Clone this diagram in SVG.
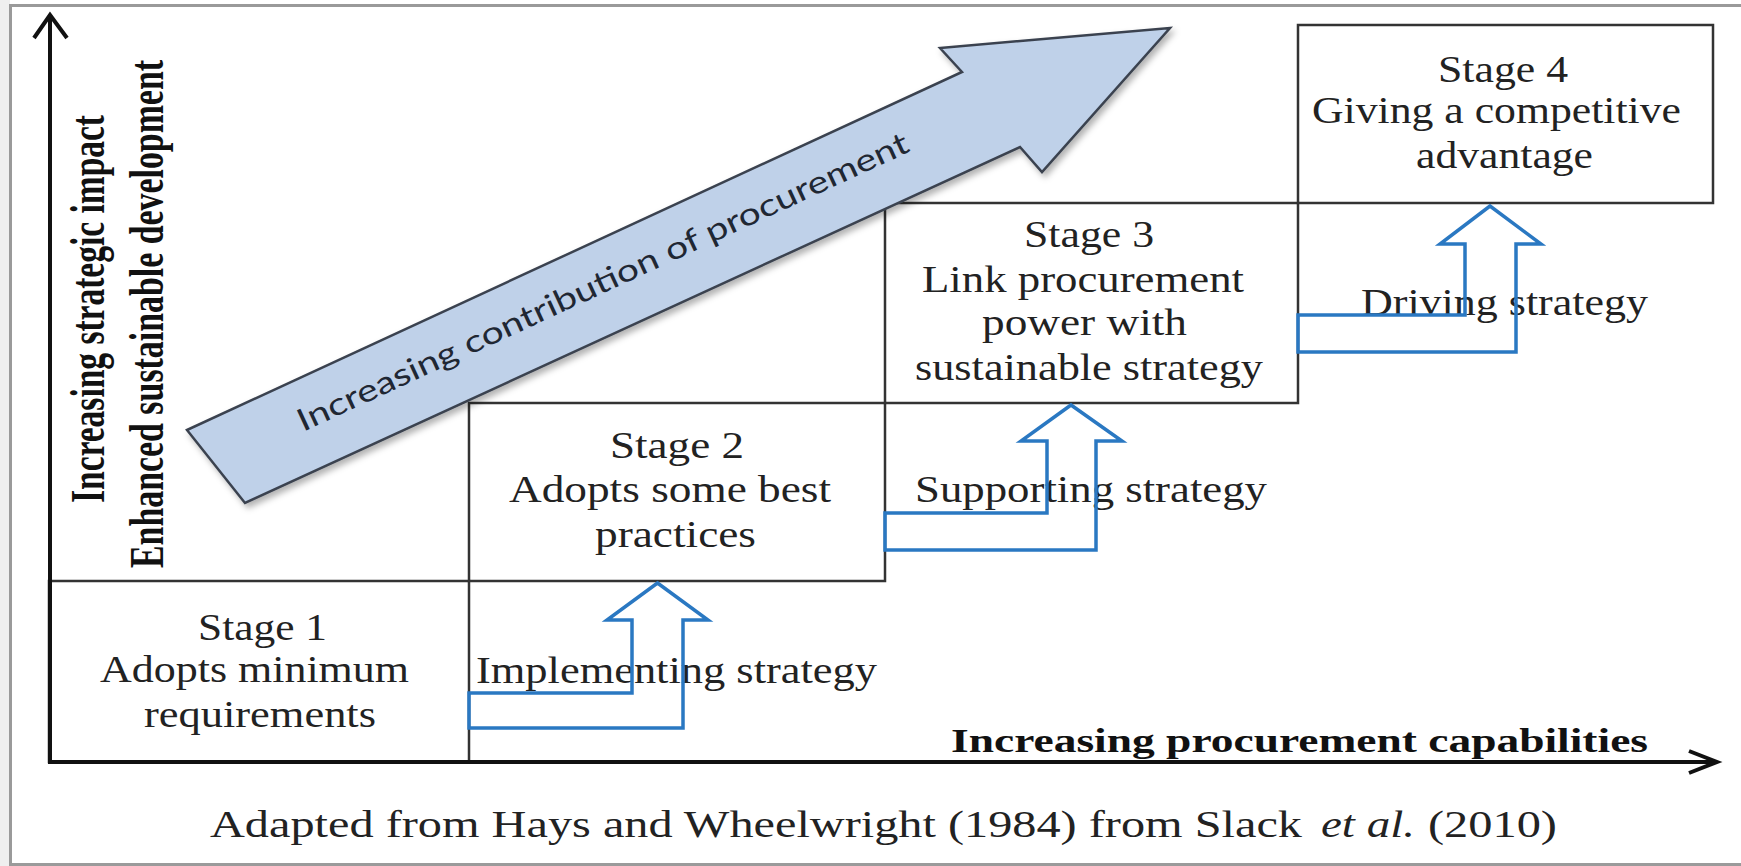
<svg xmlns="http://www.w3.org/2000/svg" width="1741" height="866" viewBox="0 0 1741 866">
<defs>
<style>
.box{fill:none;stroke:#333;stroke-width:2.5}
.t{font-family:"Liberation Serif","Times New Roman",serif;font-size:37px;fill:#222}
.tb{font-family:"Liberation Serif","Times New Roman",serif;font-weight:bold;fill:#111}
.conn{fill:none;stroke:#2a78c2;stroke-width:3.5;stroke-linejoin:miter}
.axis{fill:none;stroke:#111;stroke-width:4}
</style>
<filter id="sh" x="-10%" y="-10%" width="130%" height="140%">
<feDropShadow dx="3" dy="4" stdDeviation="3" flood-color="#000" flood-opacity="0.3"/>
</filter>
</defs>
<rect x="0" y="0" width="1741" height="866" fill="#fff"/>
<rect x="0" y="0" width="10" height="866" fill="#efefef"/>
<rect x="10.5" y="5.5" width="1740" height="859" fill="none" stroke="#9a9a9a" stroke-width="3"/>

<g id="stage1">
<rect class="box" x="49" y="581" width="420" height="181"/>
<text class="t" x="198" y="640" textLength="129" lengthAdjust="spacingAndGlyphs">Stage 1</text>
<text class="t" x="100" y="682" textLength="309" lengthAdjust="spacingAndGlyphs">Adopts minimum</text>
<text class="t" x="144" y="727" textLength="232" lengthAdjust="spacingAndGlyphs">requirements</text>
</g>
<g id="stage2">
<rect class="box" x="469" y="403" width="416" height="178"/>
<text class="t" x="610" y="458" textLength="134" lengthAdjust="spacingAndGlyphs">Stage 2</text>
<text class="t" x="509" y="502" textLength="322" lengthAdjust="spacingAndGlyphs">Adopts some best</text>
<text class="t" x="595" y="547" textLength="161" lengthAdjust="spacingAndGlyphs">practices</text>
</g>
<g id="stage3">
<rect class="box" x="885" y="203" width="413" height="200"/>
<text class="t" x="1024" y="247" textLength="130" lengthAdjust="spacingAndGlyphs">Stage 3</text>
<text class="t" x="922" y="292" textLength="322" lengthAdjust="spacingAndGlyphs">Link procurement</text>
<text class="t" x="982" y="335" textLength="205" lengthAdjust="spacingAndGlyphs">power with</text>
<text class="t" x="915" y="380" textLength="348" lengthAdjust="spacingAndGlyphs">sustainable strategy</text>
</g>
<g id="stage4">
<rect class="box" x="1298" y="25" width="415" height="178"/>
<text class="t" x="1438" y="82" textLength="130" lengthAdjust="spacingAndGlyphs">Stage 4</text>
<text class="t" x="1312" y="123" textLength="369" lengthAdjust="spacingAndGlyphs">Giving a competitive</text>
<text class="t" x="1416" y="168" textLength="177" lengthAdjust="spacingAndGlyphs">advantage</text>
</g>

<g id="axes">
<line class="axis" x1="50" y1="15" x2="50" y2="764"/>
<polyline class="axis" points="34,38 50,15 67,38"/>
<line class="axis" x1="48" y1="762" x2="1716" y2="762"/>
<polyline class="axis" points="1689,751 1717,762 1689,773"/>
<text class="tb" font-size="49" x="104" y="503" transform="rotate(-90 104 503)" textLength="388" lengthAdjust="spacingAndGlyphs">Increasing strategic impact</text>
<text class="tb" font-size="49" x="163" y="568" transform="rotate(-90 163 568)" textLength="508" lengthAdjust="spacingAndGlyphs">Enhanced sustainable development</text>
<text class="tb" font-size="34" x="951" y="752" textLength="697" lengthAdjust="spacingAndGlyphs">Increasing procurement capabilities</text>
</g>

<g id="contribution-arrow">
<polygon points="187,430 962,72 940,48 1170,28 1042,172 1020,147 245,503" fill="#bfd1e9" stroke="#3b4350" stroke-width="2.5" stroke-linejoin="miter" filter="url(#sh)"/>
<text x="303" y="432" transform="rotate(-24.8 303 432)" font-family="Lato,'Open Sans','Liberation Sans',sans-serif" font-size="31" fill="#1f2733" textLength="670" lengthAdjust="spacingAndGlyphs">Increasing contribution of procurement</text>
</g>

<g id="connectors">
<text class="t" x="476" y="683" textLength="401" lengthAdjust="spacingAndGlyphs">Implementing strategy</text>
<text class="t" x="915" y="502" textLength="352" lengthAdjust="spacingAndGlyphs">Supporting strategy</text>
<text class="t" x="1361" y="315" textLength="287" lengthAdjust="spacingAndGlyphs">Driving strategy</text>
<path class="conn" d="M469,693 H632 V620 H607 L657.5,583 L708,620 H683 V728 H469 Z"/>
<path class="conn" d="M885,513 H1047 V441 H1021 L1071,405 L1122,441 H1096 V550 H885 Z"/>
<path class="conn" d="M1298,315 H1465 V244 H1440 L1490,206 L1541,244 H1516 V352 H1298 Z"/>
</g>

<g id="caption">
<text class="t" font-size="38" x="210" y="837" textLength="1092" lengthAdjust="spacingAndGlyphs">Adapted from Hays and Wheelwright (1984) from Slack</text>
<text class="t" font-size="38" font-style="italic" x="1321" y="837" textLength="94" lengthAdjust="spacingAndGlyphs">et al.</text>
<text class="t" font-size="38" x="1428" y="837" textLength="129" lengthAdjust="spacingAndGlyphs">(2010)</text>
</g>
</svg>
